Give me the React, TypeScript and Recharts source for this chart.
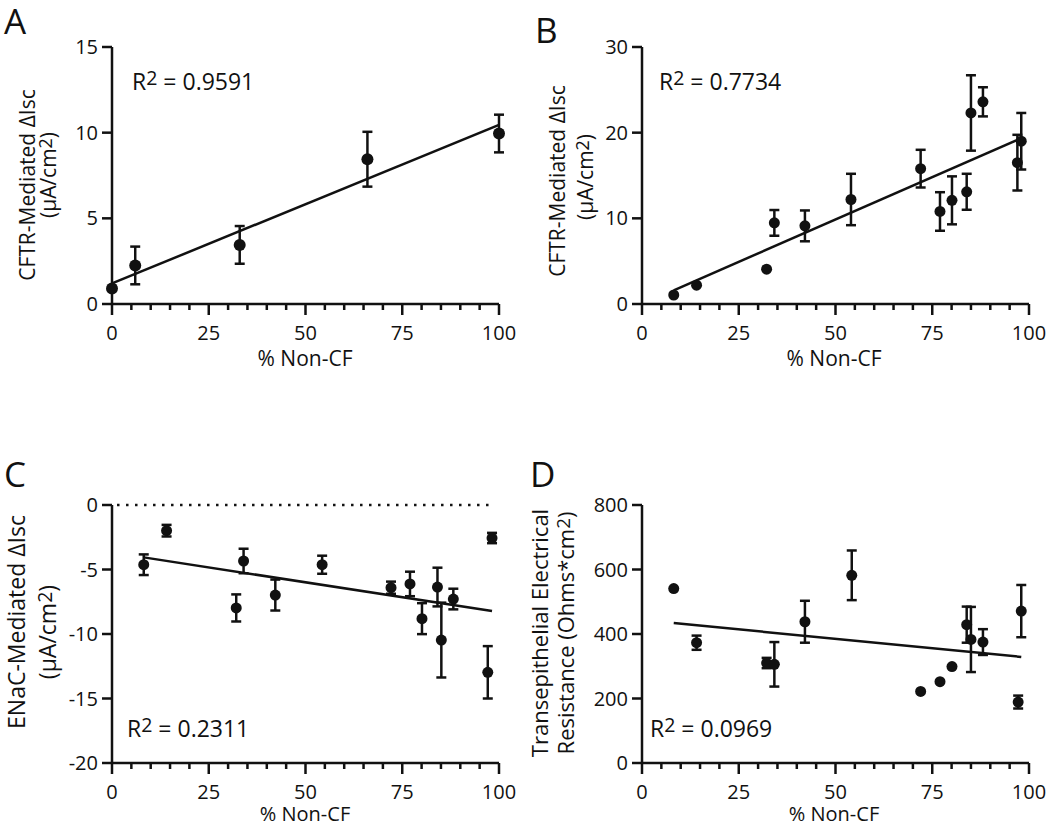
import React from 'react';
import { ScatterChart, Scatter, XAxis, YAxis, ErrorBar, ReferenceLine } from 'recharts';

// shared x axis: % Non-CF, minor tick every 5, labels every 25
const xTicks = [0, 5, 10, 15, 20, 25, 30, 35, 40, 45, 50, 55, 60, 65, 70, 75, 80, 85, 90, 95, 100];

// A: CFTR-mediated dIsc
const aX = [0, 6, 33, 66, 100];
const aY = [0.9, 2.25, 3.45, 8.45, 9.95];
const aErr = [0, 1.1, 1.1, 1.6, 1.1];
const aFitX = [0, 100];
const aFitY = [1.2, 10.45];
const aYTicks = [0, 5, 10, 15];

// B: CFTR-mediated dIsc (cultures)
const bX = [8.2, 14.1, 32.2, 34.2, 42.1, 54, 72, 77, 80.1, 83.9, 85, 88.1, 97, 98];
const bY = [1.05, 2.2, 4.07, 9.47, 9.12, 12.2, 15.8, 10.8, 12.1, 13.1, 22.3, 23.6, 16.5, 19];
const bErr = [0, 0, 0, 1.5, 1.8, 3, 2.2, 2.25, 2.8, 2.1, 4.4, 1.7, 3.25, 3.3];
const bFitX = [8.2, 98];
const bFitY = [1.6, 19.35];
const bYTicks = [0, 10, 20, 30];

// C: ENaC-mediated dIsc
const cX = [8.2, 14.1, 32.1, 34, 42.2, 54.3, 72.1, 77, 80.1, 84.1, 85.1, 88.2, 97.1, 98.2];
const cY = [-4.63, -1.99, -7.98, -4.34, -6.98, -4.63, -6.41, -6.12, -8.81, -6.36, -10.47, -7.29, -12.97, -2.56];
const cErr = [0.8, 0.45, 1.05, 0.95, 1.2, 0.7, 0.47, 0.95, 1.2, 1.5, 2.9, 0.8, 2.03, 0.4];
const cFitX = [8.2, 98.2];
const cFitY = [-4.06, -8.22];
const cYTicks = [-20, -15, -10, -5, 0];

// D: transepithelial electrical resistance
const dX = [8.2, 14.1, 32.2, 34.2, 42.1, 54.2, 72, 77, 80.1, 83.9, 85, 88.1, 97.2, 98];
const dY = [541, 373, 310, 306, 438, 582, 222, 252, 299, 429, 383, 375, 189, 471];
const dErr = [0, 22, 16, 69, 65, 77, 0, 0, 0, 56, 101, 40, 20, 81];
const dFitX = [8.2, 98];
const dFitY = [434, 329];
const dYTicks = [0, 200, 400, 600, 800];

const FONT = '"Open Sans", "Liberation Sans", sans-serif';
const INK = '#111';

const rows = (xs: number[], ys: number[], es?: number[]) =>
  xs.map((x, i) => ({ x, y: ys[i], err: es ? es[i] : 0 }));

function XTick(props: any) {
  const { x, y, payload } = props;
  const v = payload.value;
  const major = v % 25 === 0;
  return (
    <g>
      <line x1={x} x2={x} y1={y} y2={y + (major ? 11 : 6)} stroke={INK} strokeWidth={2.5} />
      {major && (
        <text x={x} y={y + 22} dy="0.71em" textAnchor="middle" fontSize={20} fill={INK} fontFamily={FONT}>
          {v}
        </text>
      )}
    </g>
  );
}

const dot = (r: number) => (p: any) => <circle cx={p.cx} cy={p.cy} r={r} fill={INK} />;

function Panel({ left, top, width, height, margin, data, fit, yDomain, yTicks, r, zeroLine }: any) {
  return (
    <div style={{ position: 'absolute', left, top }}>
      <ScatterChart width={width} height={height} margin={margin}>
        <XAxis
          type="number"
          dataKey="x"
          domain={[0, 100]}
          ticks={xTicks}
          interval={0}
          tickLine={false}
          tickSize={0}
          tickMargin={0}
          height={40}
          axisLine={{ stroke: INK, strokeWidth: 2.5 }}
          tick={<XTick />}
        />
        <YAxis
          type="number"
          dataKey="y"
          domain={yDomain}
          ticks={yTicks}
          interval={0}
          width={60}
          tickSize={10}
          tickMargin={4}
          axisLine={{ stroke: INK, strokeWidth: 2.5 }}
          tickLine={{ stroke: INK, strokeWidth: 2.5 }}
          tick={{ fill: INK, fontSize: 20, fontFamily: FONT }}
        />
        {zeroLine && (
          <ReferenceLine
            segment={[{ x: 1.3, y: 0 }, { x: 98.2, y: 0 }]}
            stroke={INK}
            strokeWidth={2.5}
            strokeDasharray="2.5 6.5"
          />
        )}
        <Scatter
          data={fit}
          line={{ stroke: INK, strokeWidth: 2.5 }}
          shape={() => <g />}
          legendType="none"
          isAnimationActive={false}
        />
        <Scatter data={data} shape={dot(r)} isAnimationActive={false}>
          <ErrorBar dataKey="err" direction="y" width={5} stroke={INK} strokeWidth={2.5} />
        </Scatter>
      </ScatterChart>
    </div>
  );
}

function Sup({ children, shift = 6 }: any) {
  return (
    <tspan baselineShift={shift} fontSize="0.85em">
      {children}
    </tspan>
  );
}

function YLabel({ x, y, size, children }: any) {
  return (
    <text
      x={x}
      y={y}
      transform={`rotate(-90 ${x} ${y})`}
      textAnchor="middle"
      fontSize={size}
      fill={INK}
      fontFamily={FONT}
    >
      {children}
    </text>
  );
}

function Txt({ x, y, size, anchor, children }: any) {
  return (
    <text x={x} y={y} fontSize={size} textAnchor={anchor || 'start'} fill={INK} fontFamily={FONT}>
      {children}
    </text>
  );
}

export default function App() {
  const topM = { top: 47, bottom: 56 };
  const botM = { top: 85, bottom: 24 };
  return (
    <div style={{ position: 'absolute', left: 0, top: 0, width: 1050, height: 827, background: '#fff', fontFamily: FONT }}>
      <Panel
        left={0} top={0} width={525} height={400}
        margin={{ ...topM, left: 52, right: 26 }}
        data={rows(aX, aY, aErr)} fit={rows(aFitX, aFitY)}
        yDomain={[0, 15]} yTicks={aYTicks} r={6}
      />
      <Panel
        left={530} top={0} width={520} height={400}
        margin={{ ...topM, left: 52, right: 21 }}
        data={rows(bX, bY, bErr)} fit={rows(bFitX, bFitY)}
        yDomain={[0, 30]} yTicks={bYTicks} r={5.5}
      />
      <Panel
        left={0} top={420} width={525} height={407}
        margin={{ ...botM, left: 52, right: 26 }}
        data={rows(cX, cY, cErr)} fit={rows(cFitX, cFitY)}
        yDomain={[-20, 0]} yTicks={cYTicks} r={5.5} zeroLine
      />
      <Panel
        left={530} top={420} width={520} height={407}
        margin={{ ...botM, left: 52, right: 21 }}
        data={rows(dX, dY, dErr)} fit={rows(dFitX, dFitY)}
        yDomain={[0, 800]} yTicks={dYTicks} r={5.5}
      />
      <svg width={1050} height={827} style={{ position: 'absolute', left: 0, top: 0, pointerEvents: 'none' }}>
        <Txt x={4} y={34} size={35}>A</Txt>
        <Txt x={535} y={43} size={35}>B</Txt>
        <Txt x={4} y={487} size={35}>C</Txt>
        <Txt x={530} y={487} size={35}>D</Txt>

        <Txt x={132} y={90} size={23}>R<Sup shift={5}>2</Sup> = 0.9591</Txt>
        <Txt x={659} y={90} size={23}>R<Sup shift={5}>2</Sup> = 0.7734</Txt>
        <Txt x={127} y={737} size={23}>R<Sup shift={5}>2</Sup> = 0.2311</Txt>
        <Txt x={650} y={737} size={23}>R<Sup shift={5}>2</Sup> = 0.0969</Txt>

        <Txt x={305} y={366} size={21} anchor="middle">% Non-CF</Txt>
        <Txt x={834} y={366} size={21} anchor="middle">% Non-CF</Txt>
        <Txt x={305} y={821} size={20} anchor="middle">% Non-CF</Txt>
        <Txt x={834} y={821} size={20} anchor="middle">% Non-CF</Txt>

        <YLabel x={35} y={185} size={21}>CFTR-Mediated ΔIsc</YLabel>
        <YLabel x={56} y={175} size={21}>(μA/cm<Sup shift={4}>2</Sup>)</YLabel>
        <YLabel x={565} y={181} size={21}>CFTR-Mediated ΔIsc</YLabel>
        <YLabel x={593} y={177} size={21}>(μA/cm<Sup shift={4}>2</Sup>)</YLabel>
        <YLabel x={25} y={622} size={23}>ENaC-Mediated ΔIsc</YLabel>
        <YLabel x={56} y={632} size={23}>(μA/cm<Sup shift={4}>2</Sup>)</YLabel>
        <YLabel x={548} y={633} size={22}>Transepithelial Electrical</YLabel>
        <YLabel x={574} y={633} size={22}>Resistance (Ohms*cm<Sup shift={4}>2</Sup>)</YLabel>
      </svg>
    </div>
  );
}
